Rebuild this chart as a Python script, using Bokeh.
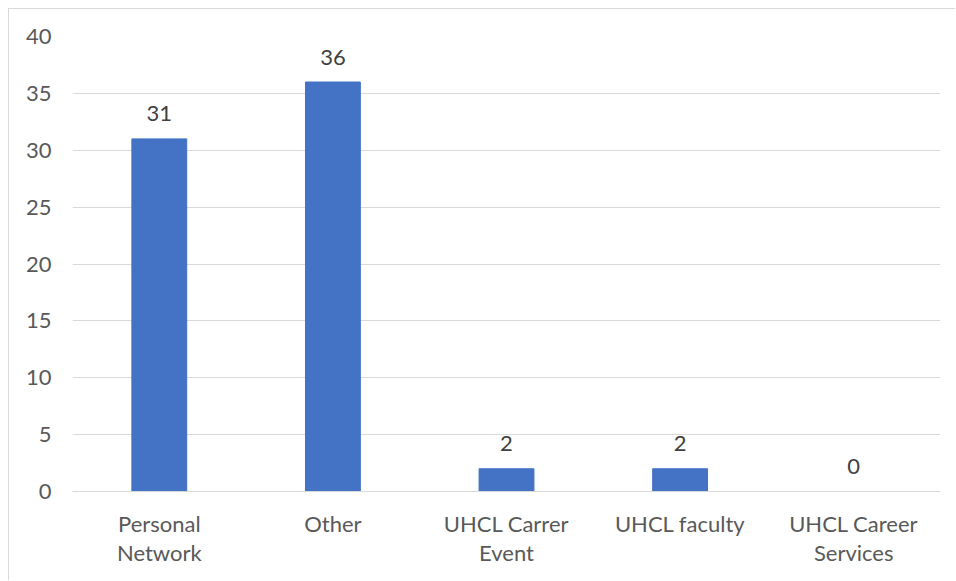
from bokeh.plotting import figure
from bokeh.models import ColumnDataSource, LabelSet, Range1d, FixedTicker
from bokeh.core.properties import value
from bokeh.embed import file_html
from bokeh.resources import INLINE

categories = ["Personal\nNetwork", "Other", "UHCL Carrer\nEvent", "UHCL faculty", "UHCL Career\nServices"]
counts = [31, 36, 2, 2, 0]
y_ticks = [0, 5, 10, 15, 20, 25, 30, 35, 40]

src = ColumnDataSource(dict(cat=categories, val=counts, lab=[str(v) for v in counts]))

FONT = "Lato"
TXT = "#595959"
GRID = "#d9d9d9"

p = figure(x_range=categories, y_range=Range1d(0, 40), width=947, height=572,
           output_backend="svg", toolbar_location=None,
           min_border_left=63, min_border_right=16, min_border_top=27, min_border_bottom=90)
p.styles = {"border-left": "1px solid #d9d9d9", "border-top": "1px solid #d9d9d9",
            "margin-left": "8px", "margin-top": "8px"}
p.outline_line_color = None
p.background_fill_color = "white"
p.border_fill_color = "white"

p.vbar(x="cat", top="val", width=0.316, source=src, color="#4472C4")

p.add_layout(LabelSet(x="cat", y="val", text="lab", source=src, y_offset=25,
                      text_align="center", text_baseline="middle",
                      text_font_size="22px", text_color="#404040", text_font=value(FONT)))

p.xgrid.grid_line_color = None
p.ygrid.grid_line_color = GRID
p.ygrid.ticker = FixedTicker(ticks=y_ticks)
p.yaxis.ticker = FixedTicker(ticks=y_ticks)
p.yaxis.axis_line_color = None
p.yaxis.major_tick_line_color = None
p.yaxis.minor_tick_line_color = None
p.yaxis.major_label_standoff = 15
p.yaxis.major_label_text_font_size = "22px"
p.yaxis.major_label_text_color = TXT
p.yaxis.major_label_text_font = FONT

p.xaxis.axis_line_color = GRID
p.xaxis.major_tick_line_color = None
p.xaxis.minor_tick_line_color = None
p.xaxis.major_label_standoff = 12
p.xaxis.major_label_text_font_size = "22px"
p.xaxis.major_label_text_color = TXT
p.xaxis.major_label_text_font = FONT
p.xaxis.major_label_text_line_height = 1.1

open("out.html", "w").write(file_html(p, INLINE))
